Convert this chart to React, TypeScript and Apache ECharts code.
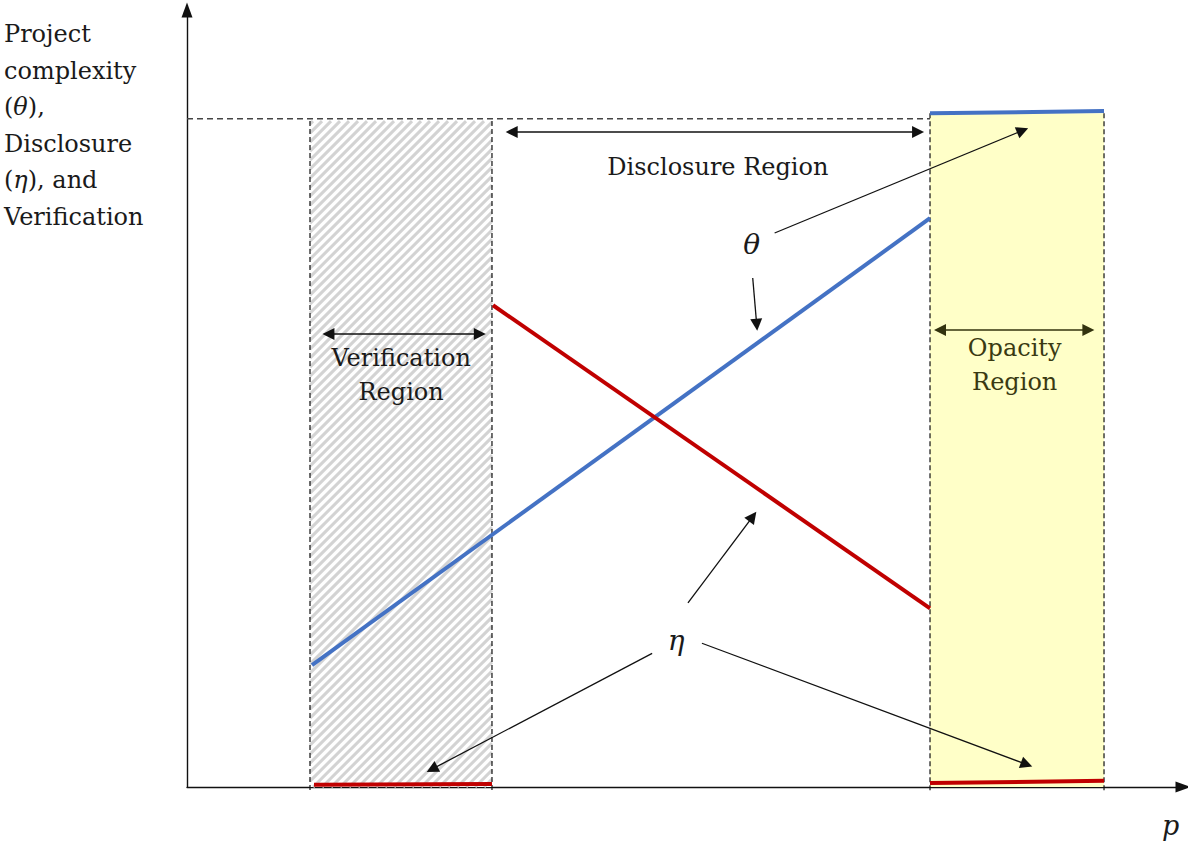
import React, { useEffect, useRef } from "react";
import * as echarts from "echarts";

// Conceptual axes (0..100 on both)
const xExtent = [0, 100];
const yExtent = [0, 100];

// Regions: [xStart, xEnd, top, kind] kind 0 = verification (hatched), 1 = opacity (yellow)
const regions = [
  [12.35, 30.62, 85.7, 0],
  [74.6, 92.07, 86.7, 1],
];
const ceilingLine = [
  [0, 86.0],
  [74.6, 86.0],
];

// Project complexity theta
const thetaRising = [
  [12.55, 15.7],
  [74.6, 73.2],
];
const thetaHigh = [
  [74.6, 86.7],
  [92.07, 87.0],
];
// Disclosure eta
const etaFalling = [
  [30.72, 62.0],
  [74.6, 23.0],
];
const etaLowLeft = [
  [12.75, 0.3],
  [30.62, 0.4],
];
const etaLowRight = [
  [74.6, 0.5],
  [92.07, 0.8],
];

// Region annotations
const regionLabels = ["Disclosure Region", "Verification\nRegion", "Opacity\nRegion"];
const regionLabelPos = [
  [53.3, 79.8],
  [21.5, 53.0],
  [83.1, 54.3],
];
const regionLabelColors = ["#1a1a1a", "#1a1a1a", "#3a3a12"];
const regionArrows = [
  [
    [32.6, 84.3],
    [73.4, 84.3],
  ],
  [
    [14.2, 58.3],
    [29.4, 58.3],
  ],
];
const opacityArrow = [
  [75.6, 58.8],
  [90.5, 58.8],
];

// Symbol annotations
const symbolLabels = ["θ", "η"];
const symbolLabelPos = [
  [56.7, 69.8],
  [49.1, 18.9],
];
const pointerArrows = [
  [
    [59.0, 71.3],
    [83.9, 84.5],
  ],
  [
    [56.8, 65.5],
    [57.2, 59.5],
  ],
  [
    [50.3, 23.7],
    [56.8, 34.8],
  ],
  [
    [46.7, 17.2],
    [24.6, 2.3],
  ],
  [
    [51.7, 18.5],
    [84.3, 2.9],
  ],
];

const yTitle =
  "Project\ncomplexity\n({i|θ}),\nDisclosure\n({i|η}), and\nVerification";

const SERIF = "'DejaVu Serif', 'Liberation Serif', serif";

export default function App() {
  const ref = useRef<HTMLDivElement>(null);

  useEffect(() => {
    if (!ref.current) return;
    const chart = echarts.init(ref.current, null, { renderer: "svg" });

    const option: any = {
      animation: false,
      backgroundColor: "#ffffff",
      grid: { left: 187, right: 5, top: 10, bottom: 59 },
      xAxis: {
        type: "value",
        min: xExtent[0],
        max: xExtent[1],
        axisLine: {
          show: true,
          onZero: false,
          symbol: ["none", "triangle"],
          symbolSize: [11, 15],
          lineStyle: { color: "#111", width: 1.4 },
        },
        axisTick: { show: false },
        axisLabel: { show: false },
        splitLine: { show: false },
      },
      yAxis: {
        type: "value",
        min: yExtent[0],
        max: yExtent[1],
        axisLine: {
          show: true,
          onZero: false,
          symbol: ["none", "triangle"],
          symbolSize: [11, 15],
          lineStyle: { color: "#111", width: 1.4 },
        },
        axisTick: { show: false },
        axisLabel: { show: false },
        splitLine: { show: false },
      },
      graphic: [
        {
          type: "text",
          left: 4,
          top: 16,
          style: {
            text: yTitle,
            font: `24px ${SERIF}`,
            fill: "#1a1a1a",
            lineHeight: 36.5,
            rich: {
              i: { fontStyle: "italic", fontSize: 24, fontFamily: SERIF, lineHeight: 36.5 },
            },
          },
        },
        {
          type: "text",
          left: 1162,
          top: 812,
          style: {
            text: "p",
            font: `italic 27px ${SERIF}`,
            fill: "#1a1a1a",
          },
        },
      ],
      series: [
        {
          type: "custom",
          silent: true,
          clip: false,
          z: 1,
          encode: { x: [0, 1], y: 2 },
          data: regions,
          renderItem: (params: any, api: any) => {
            const x0 = api.value(0);
            const x1 = api.value(1);
            const top = api.value(2);
            const kind = api.value(3);
            const tl = api.coord([x0, top]);
            const br = api.coord([x1, 0]);
            const X0 = tl[0],
              Y0 = tl[1],
              X1 = br[0],
              Y1 = br[1];
            const children: any[] = [];
            if (kind === 0) {
              children.push({
                type: "rect",
                shape: { x: X0, y: Y0, width: X1 - X0, height: Y1 - Y0 },
                style: { fill: "#ffffff" },
              });
              const step = 9;
              for (let c = X0 + Y0 + 3; c < X1 + Y1; c += step) {
                const xa = Math.max(X0, c - Y1);
                const xb = Math.min(X1, c - Y0);
                if (xb - xa > 0.5) {
                  children.push({
                    type: "line",
                    shape: { x1: xa, y1: c - xa, x2: xb, y2: c - xb },
                    style: { stroke: "#d3d3d3", lineWidth: 3 },
                  });
                }
              }
            } else {
              children.push({
                type: "rect",
                shape: { x: X0, y: Y0, width: X1 - X0, height: Y1 - Y0 },
                style: { fill: "#ffffc8" },
              });
            }
            [X0, X1].forEach((xe) => {
              children.push({
                type: "line",
                shape: { x1: xe, y1: Y0, x2: xe, y2: Y1 + 5 },
                style: { stroke: "#111", lineWidth: 1.2, lineDash: [5, 3] },
              });
            });
            return { type: "group", children };
          },
        },
        {
          type: "line",
          silent: true,
          data: ceilingLine,
          symbol: "none",
          z: 2,
          lineStyle: { color: "#444", width: 1.4, type: [6, 4] },
        },
        {
          type: "line",
          silent: true,
          data: thetaRising,
          symbol: "none",
          z: 4,
          lineStyle: { color: "#4472c4", width: 4 },
        },
        {
          type: "line",
          silent: true,
          data: thetaHigh,
          symbol: "none",
          z: 4,
          lineStyle: { color: "#4472c4", width: 4 },
        },
        {
          type: "line",
          silent: true,
          data: etaFalling,
          symbol: "none",
          z: 4,
          lineStyle: { color: "#c00000", width: 4 },
        },
        {
          type: "line",
          silent: true,
          data: etaLowLeft,
          symbol: "none",
          z: 4,
          lineStyle: { color: "#c00000", width: 4 },
        },
        {
          type: "line",
          silent: true,
          data: etaLowRight,
          symbol: "none",
          z: 4,
          lineStyle: { color: "#c00000", width: 4 },
        },
        {
          type: "lines",
          coordinateSystem: "cartesian2d",
          silent: true,
          z: 5,
          symbol: ["triangle", "triangle"],
          symbolSize: 12,
          lineStyle: { color: "#111", width: 1.5, opacity: 1, curveness: 0 },
          data: regionArrows.map((c) => ({ coords: c })),
        },
        {
          type: "lines",
          coordinateSystem: "cartesian2d",
          silent: true,
          z: 5,
          symbol: ["triangle", "triangle"],
          symbolSize: 12,
          lineStyle: { color: "#33330e", width: 1.5, opacity: 1, curveness: 0 },
          data: [{ coords: opacityArrow }],
        },
        {
          type: "lines",
          coordinateSystem: "cartesian2d",
          silent: true,
          z: 5,
          symbol: ["none", "triangle"],
          symbolSize: 12,
          lineStyle: { color: "#111", width: 1.3, opacity: 1, curveness: 0 },
          data: pointerArrows.map((c) => ({ coords: c })),
        },
        {
          type: "custom",
          silent: true,
          clip: false,
          z: 6,
          data: regionLabelPos.map((p, i) => [p[0], p[1], i]),
          renderItem: (params: any, api: any) => {
            const i = api.value(2);
            const pt = api.coord([api.value(0), api.value(1)]);
            return {
              type: "text",
              x: pt[0],
              y: pt[1],
              style: {
                text: regionLabels[i],
                font: `24px ${SERIF}`,
                fill: regionLabelColors[i],
                align: "center",
                verticalAlign: "middle",
                lineHeight: 34,
              },
            };
          },
        },
        {
          type: "custom",
          silent: true,
          clip: false,
          z: 6,
          data: symbolLabelPos.map((p, i) => [p[0], p[1], i]),
          renderItem: (params: any, api: any) => {
            const i = api.value(2);
            const pt = api.coord([api.value(0), api.value(1)]);
            return {
              type: "text",
              x: pt[0],
              y: pt[1],
              style: {
                text: symbolLabels[i],
                font: `italic 28px ${SERIF}`,
                fill: "#1a1a1a",
                align: "center",
                verticalAlign: "middle",
              },
            };
          },
        },
      ],
    };

    chart.setOption(option);
    return () => {
      chart.dispose();
    };
  }, []);

  return (
    <div
      ref={ref}
      style={{
        position: "fixed",
        left: 0,
        top: 0,
        width: 1188,
        height: 846,
        background: "#ffffff",
      }}
    />
  );
}
